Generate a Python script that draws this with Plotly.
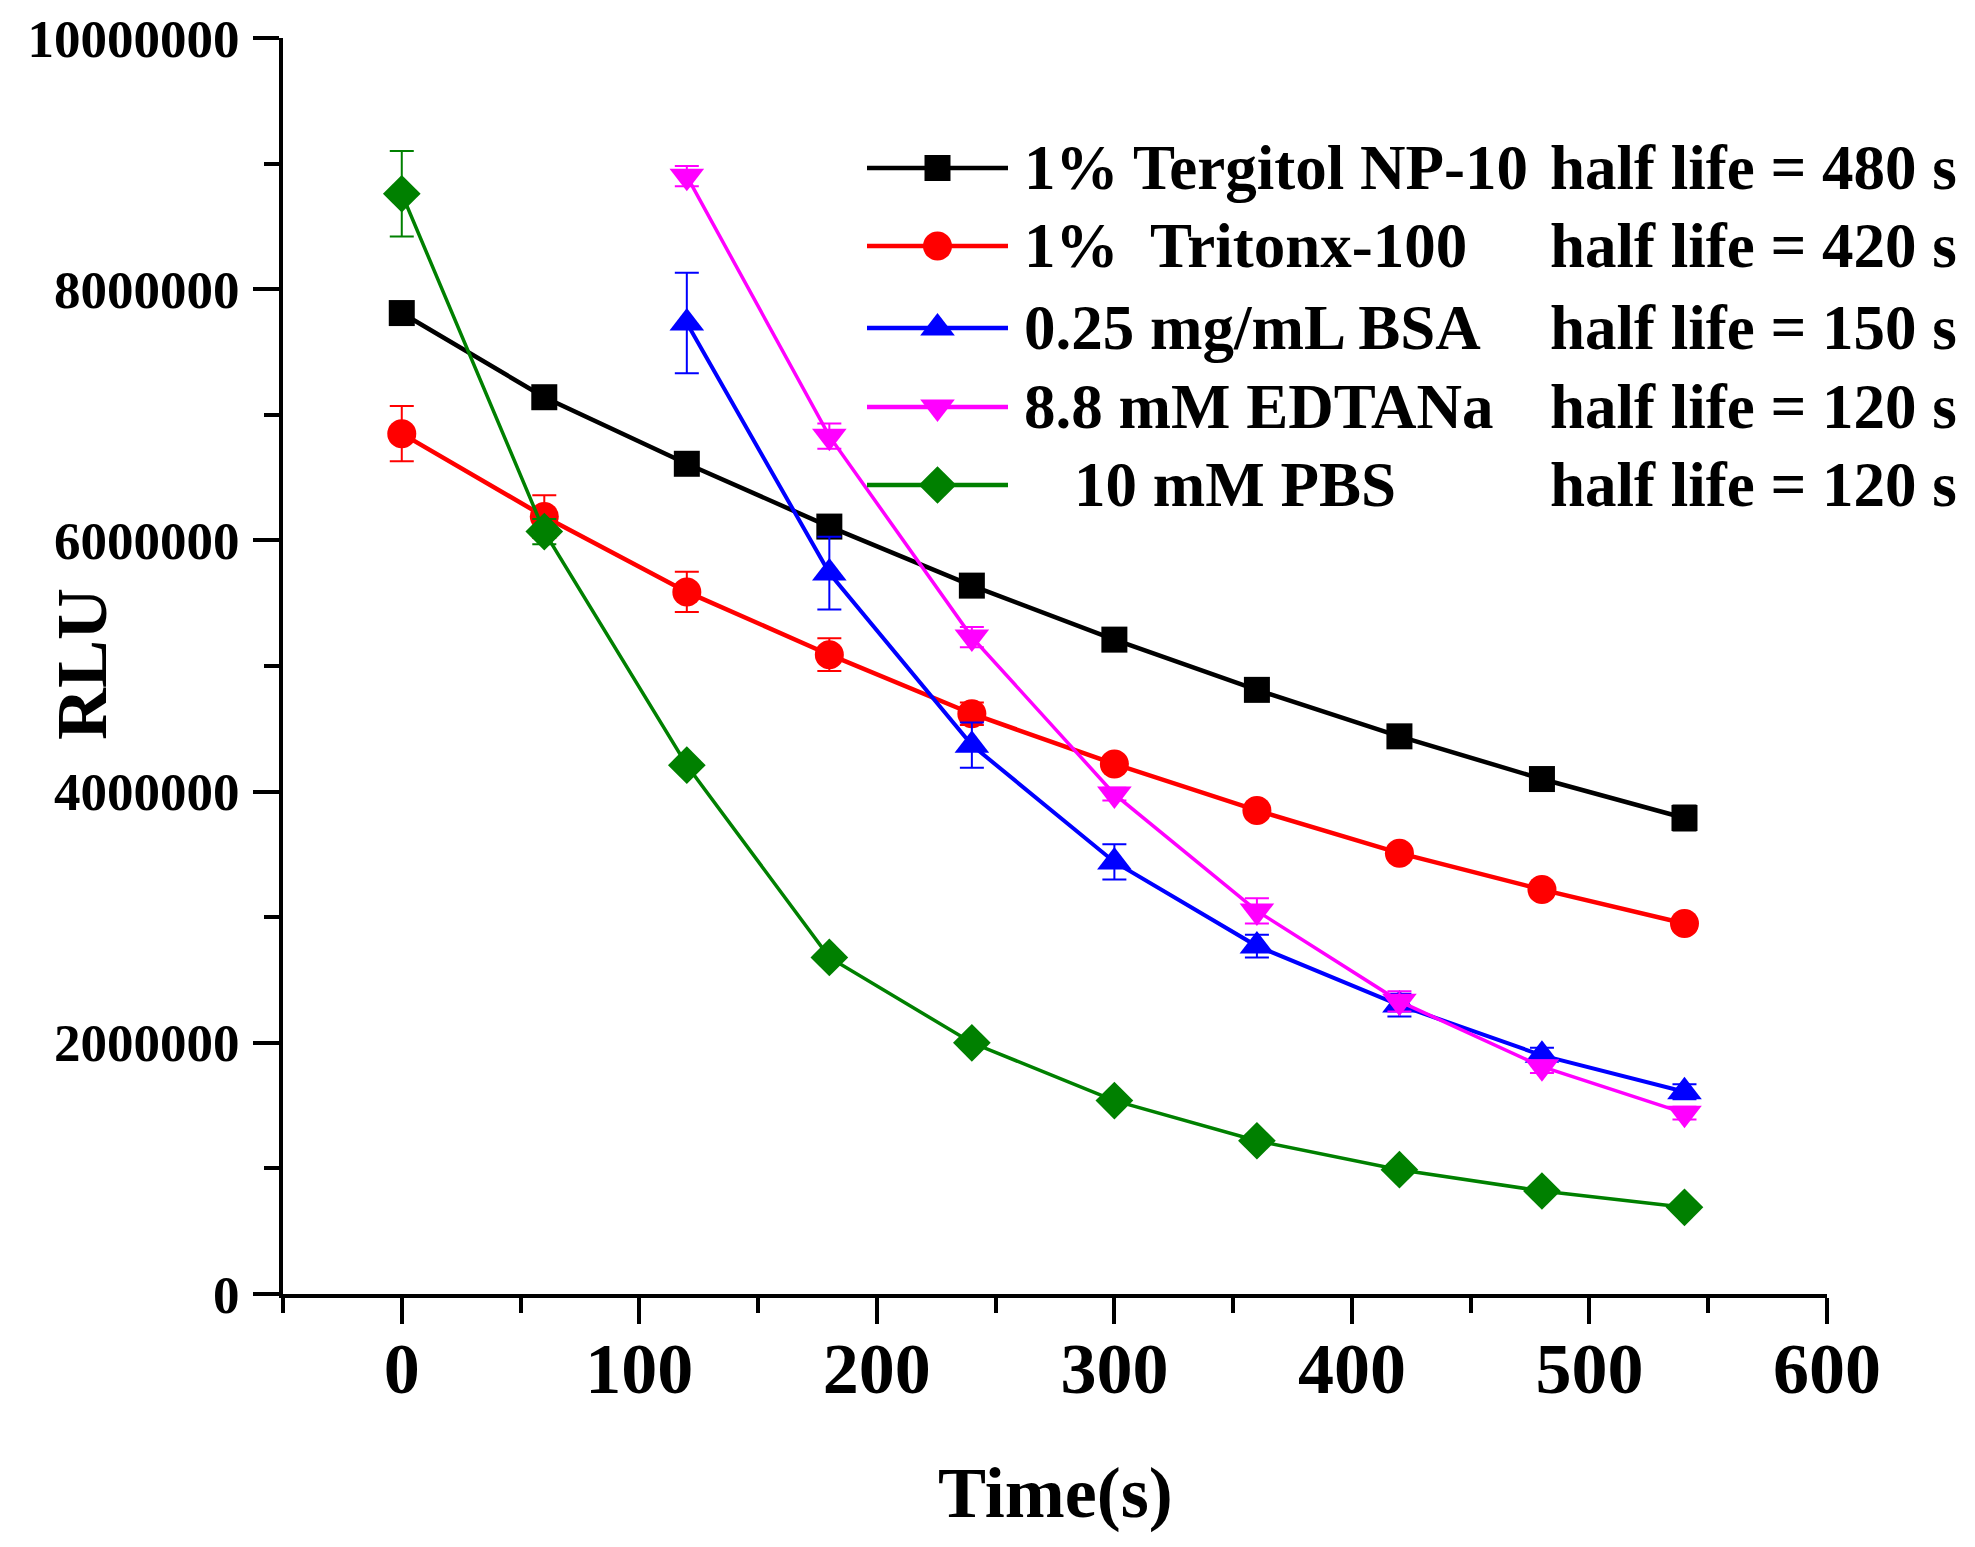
import plotly.graph_objects as go

# ---------------- data ----------------
time_all = [0, 60, 120, 180, 240, 300, 360, 420, 480, 540]
time_late = [120, 180, 240, 300, 360, 420, 480, 540]

tergitol = [7.81e6, 7.14e6, 6.61e6, 6.11e6, 5.64e6, 5.21e6, 4.81e6, 4.44e6, 4.10e6, 3.79e6]
tergitol_err = [0.03e6, 0.04e6, 0.04e6, 0.04e6, 0.04e6, 0.04e6, 0.04e6, 0.04e6, 0.05e6, 0.10e6]

triton = [6.85e6, 6.19e6, 5.59e6, 5.09e6, 4.62e6, 4.22e6, 3.85e6, 3.51e6, 3.22e6, 2.95e6]
triton_err = [0.22e6, 0.17e6, 0.16e6, 0.13e6, 0.09e6, 0.05e6, 0.05e6, 0.05e6, 0.05e6, 0.05e6]

bsa = [7.73e6, 5.74e6, 4.37e6, 3.44e6, 2.77e6, 2.30e6, 1.90e6, 1.61e6]
bsa_err = [0.40e6, 0.29e6, 0.18e6, 0.14e6, 0.09e6, 0.09e6, 0.06e6, 0.06e6]

edta = [8.90e6, 6.83e6, 5.23e6, 3.98e6, 3.05e6, 2.33e6, 1.81e6, 1.44e6]
edta_err = [0.08e6, 0.10e6, 0.08e6, 0.05e6, 0.10e6, 0.08e6, 0.05e6, 0.05e6]

pbs = [8.76e6, 6.07e6, 4.21e6, 2.68e6, 2.00e6, 1.54e6, 1.22e6, 0.99e6, 0.82e6, 0.69e6]
pbs_err = [0.34e6, 0.10e6, 0.04e6, 0.04e6, 0.04e6, 0.03e6, 0.03e6, 0.03e6, 0.03e6, 0.03e6]

names = ["1% Tergitol NP-10", "1%  Tritonx-100", "0.25 mg/mL BSA", "8.8 mM EDTANa", "10 mM PBS"]
half_lives = ["half life = 480 s", "half life = 420 s", "half life = 150 s",
              "half life = 120 s", "half life = 120 s"]

y_ticks = [0, 2000000, 4000000, 6000000, 8000000, 10000000]
x_ticks = [0, 100, 200, 300, 400, 500, 600]

# ---------------- styles ----------------
FONT = "Liberation Serif"
series = [
    (time_all, tergitol, tergitol_err, "#000000", "square", 26, 4.5),
    (time_all, triton, triton_err, "#FF0000", "circle", 29, 4.5),
    (time_late, bsa, bsa_err, "#0000FF", "triangle-up", 30, 4),
    (time_late, edta, edta_err, "#FF00FF", "triangle-down", 30, 3.5),
    (time_all, pbs, pbs_err, "#008000", "diamond", 29, 3.5),
]

fig = go.Figure()
for (xs, ys, es, col, sym, sz, lw), nm in zip(series, names):
    fig.add_trace(go.Scatter(
        x=xs, y=ys, mode="lines+markers", name=nm, showlegend=False,
        line=dict(color=col, width=lw),
        marker=dict(symbol=sym, size=sz, color=col, opacity=1, line=dict(width=0)),
        error_y=dict(type="data", array=es, visible=True, color=col,
                     thickness=2, width=12),
        cliponaxis=False,
    ))

# ---------------- manual legend on a pixel-space overlay axis ----------------
row_y = [168, 246, 328, 407, 485]
line_x0, line_x1 = 867, 1008
name_x = [1022, 1022, 1022, 1022, 1072]
hl_x = 1548
for i, ((xs, ys, es, col, sym, sz, lw), nm) in enumerate(zip(series, names)):
    fig.add_trace(go.Scatter(
        x=[line_x0, (line_x0 + line_x1) / 2, line_x1], y=[row_y[i]] * 3,
        xaxis="x2", yaxis="y2", mode="lines+markers", showlegend=False,
        line=dict(color=col, width=4.5),
        marker=dict(symbol=sym, size=[0, sz, 0], color=col, opacity=1,
                    line=dict(width=0)),
        hoverinfo="skip", cliponaxis=False,
    ))
    fig.add_annotation(x=name_x[i], y=row_y[i], xref="x2", yref="y2",
                       text=nm.replace("  ", "\u00a0\u00a0"), showarrow=False,
                       xanchor="left", yanchor="middle",
                       font=dict(family=FONT, size=63, color="black", weight="bold"))
    fig.add_annotation(x=hl_x, y=row_y[i], xref="x2", yref="y2",
                       text=half_lives[i], showarrow=False,
                       xanchor="left", yanchor="middle",
                       font=dict(family=FONT, size=63, color="black", weight="bold"))

# axis titles (paper coordinates)
fig.add_annotation(x=0.5006, y=-0.1584, xref="paper", yref="paper", text="Time(s)",
                   showarrow=False, xanchor="center", yanchor="middle",
                   font=dict(family=FONT, size=72, color="black", weight="bold"))
fig.add_annotation(x=-0.1302, y=0.5016, xref="paper", yref="paper", text="RLU",
                   textangle=-90, showarrow=False, xanchor="center", yanchor="middle",
                   font=dict(family=FONT, size=72, color="black", weight="bold"))

fig.update_layout(
    width=1975, height=1547,
    margin=dict(l=275, r=156, t=30, b=261),
    paper_bgcolor="white", plot_bgcolor="white",
    showlegend=False,
    xaxis=dict(
        range=[-50, 600], tickvals=x_ticks, showgrid=False, zeroline=False,
        automargin=False,
        showline=True, linecolor="black", linewidth=4,
        ticks="outside", ticklen=26, tickwidth=4, tickcolor="black",
        minor=dict(dtick=50, tick0=0, ticks="outside", ticklen=15, tickwidth=4,
                   tickcolor="black", showgrid=False),
        tickfont=dict(family=FONT, size=72, color="black", weight="bold"),
        ticklabelstandoff=-17,
    ),
    yaxis=dict(
        range=[0, 10000000], tickvals=y_ticks, tickformat="d",
        showgrid=False, zeroline=False, automargin=False,
        showline=True, linecolor="black", linewidth=4,
        ticks="outside", ticklen=26, tickwidth=4, tickcolor="black",
        minor=dict(dtick=1000000, tick0=0, ticks="outside", ticklen=15, tickwidth=4,
                   tickcolor="black", showgrid=False),
        tickfont=dict(family=FONT, size=53, color="black", weight="bold"),
        ticklabelstandoff=3,
    ),
    xaxis2=dict(range=[283, 1827], overlaying="x", anchor="y2", visible=False,
                fixedrange=True, automargin=False),
    yaxis2=dict(range=[1294, 38], overlaying="y", anchor="x2", visible=False,
                fixedrange=True, automargin=False),
)

fig.write_html("out.html")
